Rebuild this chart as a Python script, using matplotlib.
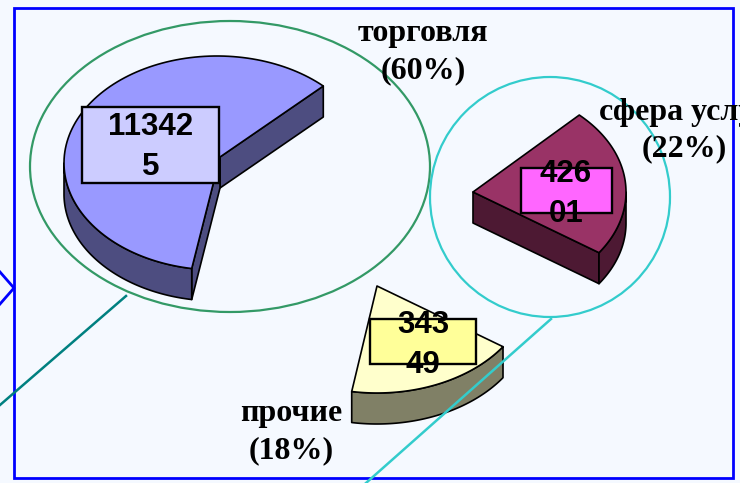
import numpy as np
import matplotlib
matplotlib.use("Agg")
import matplotlib.pyplot as plt
from matplotlib.patches import Polygon, Ellipse, Rectangle

# --- data ---
categories = ["торговля\n(60%)", "прочие\n(18%)", "сфера услуг\n(22%)"]
values = [113425, 34349, 42601]
value_labels = ["11342\n5", "343\n49", "426\n01"]

# --- style / layout (pixel space of the picture) ---
top_colors = ["#9999FF", "#FFFFCC", "#993366"]
side_colors = ["#4D4D80", "#808066", "#4D1933"]
box_colors = ["#CCCCFF", "#FFFF99", "#FF66FF"]
centers = [(217, 163), (377, 286), (473, 192)]
apexes = [(220, 157), (377, 286), (473, 192)]
boxes = [(82, 107, 137, 76), (370, 319, 106, 45), (521, 168, 91, 45)]
cat_pos = [(423, 52), (291, 432), (684, 130.5)]
val_pos = [(150.5, 147), (423, 345), (566, 194)]
RX, RY, DEPTH = 153, 107, 31
START = 46.0
BG = "#F5F9FF"

fig = plt.figure(figsize=(7.4, 4.83), dpi=100, facecolor=BG)
ax = fig.add_axes([0, 0, 1, 1])
ax.set_xlim(0, 740)
ax.set_ylim(483, 0)
ax.axis("off")

# frame and callout shapes
ax.add_patch(Rectangle((14, 8), 719, 470, fill=False, ec="#0000FF", lw=2.0, zorder=1))
ax.plot([0, 14, 0], [272, 288, 304], color="#0000FF", lw=2.0, zorder=1)
ax.add_patch(Ellipse((230, 166.5), 400, 291, fill=False, ec="#339966", lw=1.6, zorder=2))
ax.add_patch(Ellipse((550, 197), 240, 240, fill=False, ec="#33CCCC", lw=1.6, zorder=2))


def rim(c, a0, a1):
    t = np.radians(np.linspace(a0, a1, 120))
    return np.column_stack([c[0] + RX * np.cos(t), c[1] - RY * np.sin(t)])


def shift(p):
    return np.asarray(p, float) + [0, DEPTH]


sweeps = np.array(values) / np.sum(values) * 360
angle = START
for i, sw in enumerate(sweeps):
    a0, a1 = angle, angle + sw
    angle = a1
    c, ap = centers[i], apexes[i]
    arc = rim(c, a0, a1)
    edge = dict(ec="black", lw=1.2, joinstyle="round", zorder=3)
    # cut faces: only those turned toward the viewer
    if np.cos(np.radians(a0)) > 0:
        ax.add_patch(Polygon([arc[0], ap, shift(ap), shift(arc[0])], fc=side_colors[i], **edge))
    if np.cos(np.radians(a1)) < 0:
        ax.add_patch(Polygon([arc[-1], ap, shift(ap), shift(arc[-1])], fc=side_colors[i], **edge))
    # outer wall: the part of the rim facing the viewer
    for k in (0, 360):
        lo, hi = max(a0, 180 + k), min(a1, 360 + k)
        if hi > lo:
            part = rim(c, lo, hi)
            ax.add_patch(Polygon(np.vstack([part, shift(part)[::-1]]), fc=side_colors[i], **edge))
    # top face
    ax.add_patch(Polygon(np.vstack([[ap], arc]), fc=top_colors[i], **edge))

# leader lines
ax.plot([126, 0], [296, 405], color="#008080", lw=1.8, zorder=4)
ax.plot([551, 366], [319, 483], color="#33CCCC", lw=1.8, zorder=4)

# value boxes
for (x, y, w, h), col, (tx, ty), lab in zip(boxes, box_colors, val_pos, value_labels):
    ax.add_patch(Rectangle((x, y), w, h, fc=col, ec="black", lw=1.7, zorder=5))
    ax.text(tx, ty, lab, ha="center", va="center", family="Liberation Sans",
            weight="bold", fontsize=22.5, linespacing=1.42, color="black", zorder=6)

# category labels
for (tx, ty), lab in zip(cat_pos, categories):
    ax.text(tx, ty, lab, ha="center", va="center", family="Liberation Serif",
            weight="bold", fontsize=23, linespacing=1.34, color="black", zorder=7)

fig.savefig("out.png", dpi=100, facecolor=BG)
